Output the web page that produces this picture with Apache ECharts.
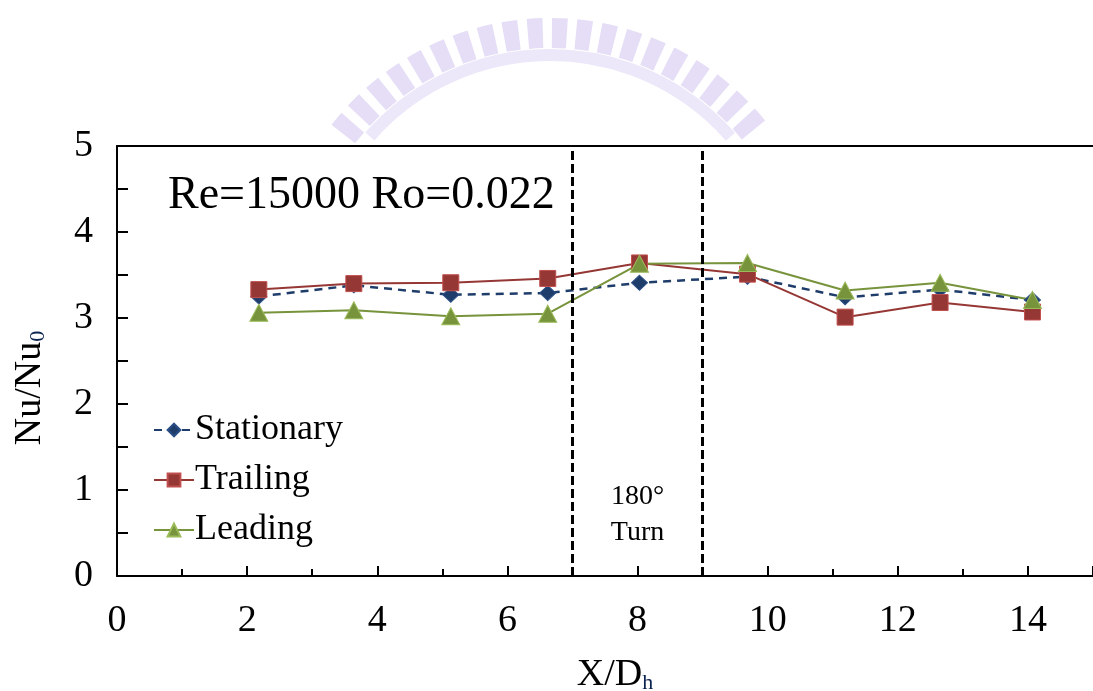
<!DOCTYPE html>
<html>
<head>
<meta charset="utf-8">
<script src="https://cdn.jsdelivr.net/npm/echarts@6/dist/echarts.min.js"></script>
<style>
  html, body { margin: 0; padding: 0; background: #fff; }
  #main { width: 1093px; height: 691px; }
</style>
</head>
<body>
<div id="main"></div>
<script type="text/javascript">
    // 数据
    var xPos = [2.18, 3.64, 5.13, 6.62, 8.03, 9.69, 11.19, 12.65, 14.07];
    var stationary = [3.25, 3.38, 3.27, 3.29, 3.41, 3.48, 3.24, 3.33, 3.21];
    var trailing = [3.33, 3.40, 3.41, 3.46, 3.64, 3.51, 3.01, 3.18, 3.07];
    var leading = [3.06, 3.09, 3.02, 3.05, 3.63, 3.64, 3.32, 3.41, 3.21];
    var turnBounds = [7, 9];
    var xTicks = [0, 2, 4, 6, 8, 10, 12, 14];
    var yTicks = [0, 1, 2, 3, 4, 5];

    var FONT = "'Liberation Serif', 'DejaVu Serif', serif";

    function pairs(ys){
        return xPos.map(function(x, i){ return [x, ys[i]]; });
    }

    var myChart = echarts.init(document.getElementById('main'), null, {renderer: 'canvas'});

    var option = {
        backgroundColor: '#fff',
        animation: false,
        title: {
            text: 'Re=15000 Ro=0.022',
            left: 163,
            top: 168,
            textStyle: {fontFamily: FONT, fontSize: 46, fontWeight: 'normal', color: '#000'}
        },
        //水印
        graphic: [
            {type: 'arc', z: -10, silent: true,
             shape: {cx: 550, cy: 295, r: 262, startAngle: -2.48, endAngle: -0.67, clockwise: true},
             style: {fill: null, stroke: '#e5def6', lineWidth: 30, lineDash: [15, 9]}},
            {type: 'arc', z: -10, silent: true,
             shape: {cx: 550, cy: 295, r: 240, startAngle: -2.42, endAngle: -0.72, clockwise: true},
             style: {fill: null, stroke: '#ece7f9', lineWidth: 12}}
        ],
        legend: {
            orient: 'vertical',
            left: 148,
            top: 405,
            itemWidth: 40,
            itemHeight: 16,
            itemGap: 10,
            textStyle: {fontFamily: FONT, fontSize: 36, color: '#000', lineHeight: 40, padding: [0, 0, 0, -4]},
            data: ['Stationary', 'Trailing', 'Leading']
        },
        grid: {left: 117, right: 0, top: 146, bottom: 115, containLabel: false, outerBoundsMode: 'none'},
        xAxis: [{
            type: 'value',
            min: 0, max: 15, interval: 2,
            name: '{a|X/D}{b|h}',
            nameLocation: 'middle',
            nameGap: 78,
            nameTextStyle: {
                padding: [0, 0, 0, 20],
                rich: {
                    a: {fontFamily: FONT, fontSize: 38, color: '#000', verticalAlign: 'bottom', lineHeight: 40},
                    b: {fontFamily: FONT, fontSize: 22, color: '#0b2350', verticalAlign: 'bottom', lineHeight: 34}
                }
            },
            axisLine: {lineStyle: {color: '#000', width: 2}},
            axisTick: {inside: true, length: 10, lineStyle: {color: '#000', width: 2}},
            minorTick: {show: true, splitNumber: 2, length: 7, lineStyle: {color: '#000', width: 2}},
            splitLine: {show: false},
            axisLabel: {
                fontFamily: FONT, fontSize: 38, color: '#000', margin: 26,
                showMaxLabel: false,
                formatter: function(v){ return xTicks.indexOf(v) >= 0 ? String(v) : ''; }
            }
        }, {
            type: 'value', position: 'top',
            min: 0, max: 15,
            axisLine: {show: true, lineStyle: {color: '#000', width: 2}},
            axisTick: {show: false},
            axisLabel: {show: false},
            splitLine: {show: false}
        }],
        yAxis: {
            type: 'value',
            min: 0, max: 5, interval: 1,
            name: '{a|Nu/Nu}{b|0}',
            nameLocation: 'middle',
            nameRotate: 90,
            nameGap: 68,
            nameTextStyle: {
                padding: [0, 54, 0, 0],
                rich: {
                    a: {fontFamily: FONT, fontSize: 38, color: '#000', verticalAlign: 'bottom', lineHeight: 40},
                    b: {fontFamily: FONT, fontSize: 22, color: '#0b2350', verticalAlign: 'bottom', lineHeight: 34}
                }
            },
            axisLine: {lineStyle: {color: '#000', width: 2}},
            axisTick: {inside: true, length: 11, lineStyle: {color: '#000', width: 2}},
            minorTick: {show: true, splitNumber: 2, length: 11, lineStyle: {color: '#000', width: 2}},
            splitLine: {show: false},
            axisLabel: {
                fontFamily: FONT, fontSize: 38, color: '#000', margin: 24,
                formatter: function(v){ return yTicks.indexOf(v) >= 0 ? String(v) : ''; }
            }
        },
        series: [{
            name: 'Stationary',
            type: 'line',
            data: pairs(stationary),
            symbol: 'diamond',
            symbolSize: [16, 15],
            lineStyle: {color: '#1f3d6b', width: 2.5, type: [8, 6]},
            itemStyle: {color: '#1f3d6b', borderColor: '#2a4f86', borderWidth: 1},
            markLine: {
                silent: true,
                symbol: 'none',
                label: {show: false},
                lineStyle: {color: '#000', width: 3, type: [9, 4]},
                data: turnBounds.map(function(v){ return {xAxis: v}; })
            },
            markPoint: {
                silent: true,
                symbol: 'circle',
                symbolSize: 0,
                data: [{coord: [(turnBounds[0] + turnBounds[1]) / 2, 0.71]}],
                label: {
                    show: true, position: 'inside', formatter: '180°\nTurn',
                    fontFamily: FONT, fontSize: 28, lineHeight: 36, color: '#000'
                }
            }
        }, {
            name: 'Trailing',
            type: 'line',
            data: pairs(trailing),
            symbol: 'rect',
            symbolSize: 16,
            lineStyle: {color: '#953735', width: 2},
            itemStyle: {color: '#953735', borderColor: '#c0504d', borderWidth: 1}
        }, {
            name: 'Leading',
            type: 'line',
            data: pairs(leading),
            symbol: 'triangle',
            symbolSize: [18, 17],
            lineStyle: {color: '#77933c', width: 2},
            itemStyle: {color: '#77933c', borderColor: '#9bbb59', borderWidth: 1}
        }]
    };

    myChart.setOption(option);
</script>
</body>
</html>
